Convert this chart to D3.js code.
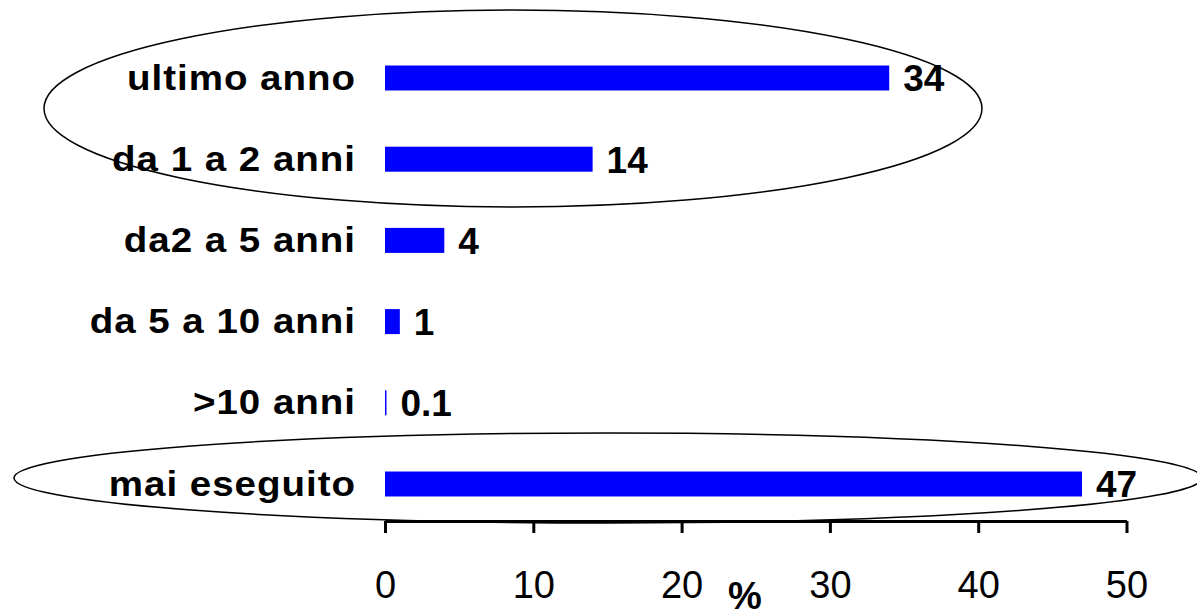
<!DOCTYPE html>
<html><head><meta charset="utf-8">
<script src="https://cdn.jsdelivr.net/npm/d3@7"></script>
<style>body{margin:0;background:#fff}svg{display:block}</style>
</head><body>
<script>
const categories = ["ultimo anno","da 1 a 2 anni","da2 a 5 anni","da 5 a 10 anni",">10 anni","mai eseguito"];
const values = [34, 14, 4, 1, 0.1, 47];
const valueLabels = ["34","14","4","1","0.1","47"];
const tickValues = [0,10,20,30,40,50];
const axisTitle = "%";

const W = 1197, H = 616;
const svg = d3.select("body").append("svg").attr("width", W).attr("height", H);
const x = d3.scaleLinear().domain([0,50]).range([385,1126.5]);
const y = d3.scalePoint().domain(categories).range([78,484]);
const barH = 25;
const font = "Liberation Sans, Arial, sans-serif";

svg.selectAll("rect.bar").data(values).join("rect")
  .attr("x", x(0)).attr("y", (d,i)=>y(categories[i]) - barH/2)
  .attr("width", d => x(d) - x(0)).attr("height", barH).attr("fill", "#0000ff");

svg.selectAll("text.cat").data(categories).join("text")
  .attr("transform", d => `translate(${x(0) - 29},${y(d)}) scale(1.1,1)`)
  .attr("dy", "0.33em")
  .attr("text-anchor", "end").attr("font-family", font).attr("font-weight", "bold")
  .attr("letter-spacing", 0.9)
  .attr("font-size", 35).text(d => d);

svg.selectAll("text.val").data(values).join("text")
  .attr("x", d => x(d) + 14).attr("y", (d,i)=>y(categories[i])).attr("dy", "0.36em")
  .attr("font-family", font).attr("font-weight", "bold")
  .attr("font-size", 37).text((d,i) => valueLabels[i]);

const axis = d3.axisBottom(x).tickValues(tickValues).tickSizeInner(12).tickSizeOuter(0).tickPadding(38).tickFormat(d3.format("d"));
const g = svg.append("g").attr("transform", "translate(0,521)").call(axis);
g.select(".domain").attr("stroke", "#000").attr("stroke-width", 3);
g.selectAll(".tick line").attr("stroke", "#000").attr("stroke-width", 3);
g.selectAll(".tick text").attr("font-family", font).attr("font-size", 38).attr("fill", "#000");

svg.append("text").attr("x", 745).attr("y", 609).attr("text-anchor", "middle")
  .attr("font-family", font).attr("font-weight", "bold").attr("font-size", 38).text(axisTitle);

svg.append("ellipse").attr("cx", 513).attr("cy", 108.5).attr("rx", 469).attr("ry", 98.5)
  .attr("fill", "none").attr("stroke", "#000").attr("stroke-width", 1.5);
svg.append("ellipse").attr("cx", 608).attr("cy", 478).attr("rx", 594).attr("ry", 45)
  .attr("fill", "none").attr("stroke", "#000").attr("stroke-width", 1.5);
</script>
</body></html>
